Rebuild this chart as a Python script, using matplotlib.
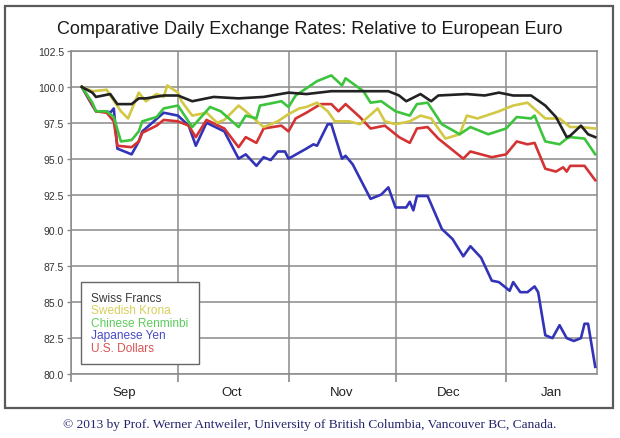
#!/usr/bin/env python3
"""
Comparative daily exchange rates relative to the euro (Sep 2012 - Jan 2013).
Index = 100 on the first trading day. Writes out.png.
"""
from __future__ import annotations

import matplotlib
matplotlib.use("Agg")
import matplotlib.dates as mdates
import matplotlib.pyplot as plt
import numpy as np
from matplotlib.patches import Rectangle

START = np.datetime64("2012-09-01")
END = np.datetime64("2013-01-26T12:00")

# days since 2012-09-01, index values
chf_day = [3, 6, 7, 11, 13, 17, 19, 21, 26, 30, 34, 40, 47, 54, 61, 66, 73, 82, 89, 92,
           94, 98, 101, 103, 111, 116, 120, 124, 129, 133, 136, 139, 140, 143, 145, 147]
chf_val = [100.0, 99.6, 99.3, 99.5, 98.8, 98.8, 99.2, 99.2, 99.4, 99.4,
           99.0, 99.3, 99.2, 99.3, 99.6, 99.5, 99.7, 99.7, 99.7, 99.4,
           99.0, 99.5, 99.0, 99.4, 99.5, 99.4, 99.6, 99.4, 99.4, 98.7,
           97.9, 96.5, 96.6, 97.3, 96.7, 96.5]

sek_day = [3, 6, 10, 11, 14, 16, 19, 21, 24, 26, 27, 30, 31, 34, 38, 41, 43, 47, 49, 54,
           58, 61, 64, 66, 69, 72, 74, 78, 81, 86, 88, 91, 95, 98, 101, 105, 109, 111, 114, 120,
           124, 128, 133, 137, 140, 143, 147]
sek_val = [100.0, 99.7, 99.8, 99.4, 98.3, 97.8, 99.6, 99.0, 99.5, 99.3,
           100.1, 99.6, 99.0, 98.0, 98.2, 97.5, 97.7, 98.7, 98.3, 97.2,
           97.6, 98.1, 98.5, 98.6, 98.9, 98.3, 97.6, 97.6, 97.4, 98.5,
           97.6, 97.4, 97.6, 98.0, 97.8, 96.4, 96.7, 98.0, 97.8, 98.3,
           98.7, 98.9, 97.8, 97.8, 97.2, 97.2, 97.1]

cny_day = [3, 6, 7, 10, 12, 14, 17, 19, 20, 24, 26, 30, 34, 39, 42, 47, 49, 52, 53, 59,
           61, 63, 66, 69, 73, 76, 77, 82, 84, 87, 91, 95, 97, 100, 104, 109, 112, 117, 122, 125,
           129, 130, 133, 137, 139, 140, 144, 147]
cny_val = [100.0, 98.9, 98.3, 98.3, 97.9, 96.2, 96.3, 96.9, 97.6, 97.9,
           98.5, 98.7, 97.2, 98.6, 98.3, 97.2, 98.0, 97.8, 98.7, 99.0,
           98.6, 99.4, 99.9, 100.4, 100.8, 100.1, 100.6, 99.7, 98.9, 99.0,
           98.3, 98.0, 98.8, 98.9, 97.4, 96.7, 97.2, 96.7, 97.1, 97.9,
           97.8, 98.0, 96.2, 96.0, 96.4, 96.5, 96.4, 95.3]

jpy_day = [3, 6, 7, 10, 11, 12, 13, 17, 19, 20, 26, 30, 33, 35, 38, 43, 47, 49, 52, 54,
           56, 58, 60, 61, 66, 68, 69, 72, 73, 76, 77, 79, 84, 87, 89, 91, 94, 95, 96, 97,
           100, 104, 107, 110, 112, 115, 118, 120, 123, 124, 126, 128, 130, 131, 133, 135, 137, 139,
           141, 143, 144, 145, 147]
jpy_val = [100.0, 98.7, 98.3, 98.3, 98.2, 98.5, 95.7, 95.3, 96.2, 96.9,
           98.2, 98.0, 97.3, 95.9, 97.5, 96.9, 95.0, 95.3, 94.5, 95.1,
           94.9, 95.5, 95.5, 95.0, 95.7, 96.0, 95.9, 97.4, 97.4, 95.0,
           95.2, 94.6, 92.2, 92.5, 93.0, 91.6, 91.6, 92.0, 91.4, 92.4,
           92.4, 90.1, 89.4, 88.2, 88.9, 88.1, 86.5, 86.4, 85.8, 86.4,
           85.7, 85.7, 86.1, 85.7, 82.7, 82.5, 83.4, 82.5,
           82.3, 82.5, 83.5, 83.5, 80.5]

usd_day = [3, 5, 7, 10, 12, 13, 17, 19, 20, 24, 26, 30, 33, 35, 38, 43, 47, 49, 52, 54,
           59, 61, 63, 66, 70, 73, 75, 77, 81, 84, 88, 92, 95, 97, 100, 103, 110, 112, 118, 122,
           125, 128, 130, 133, 136, 138, 139, 140, 144, 147]
usd_val = [100.0, 99.2, 98.3, 98.2, 97.6, 95.9, 95.8, 96.2, 96.8, 97.3,
           97.7, 97.6, 97.3, 96.5, 97.7, 97.1, 95.8, 96.5, 96.1, 97.1,
           97.3, 96.9, 97.8, 98.2, 98.8, 98.8, 98.3, 98.8, 97.9, 97.1,
           97.3, 96.5, 96.1, 97.1, 97.2, 96.4, 95.0, 95.5, 95.1, 95.3,
           96.2, 96.0, 96.1, 94.3, 94.1, 94.4, 94.1, 94.5, 94.5, 93.5]

# label, line color, legend text color, days, values
SERIES = [
    ("Swiss Francs", "#222222", "#3a3a3a", chf_day, chf_val),
    ("Swedish Krona", "#d2c843", "#d8cf5c", sek_day, sek_val),
    ("Chinese Renminbi", "#3dc43d", "#5ccc5c", cny_day, cny_val),
    ("Japanese Yen", "#3333b8", "#4a4ac4", jpy_day, jpy_val),
    ("U.S. Dollars", "#d33333", "#d85454", usd_day, usd_val),
]
ZORDER = {"Swiss Francs": 6, "Swedish Krona": 4, "Chinese Renminbi": 5,
          "Japanese Yen": 3, "U.S. Dollars": 3}

Y_TICKS = [80.0, 82.5, 85.0, 87.5, 90.0, 92.5, 95.0, 97.5, 100.0, 102.5]
GRID = "#8a8a8a"


def to_dates(days):
    return START + np.array([np.timedelta64(int(round(d * 24)), "h") for d in days])


def main() -> None:
    fig = plt.figure(figsize=(6.2, 4.39), dpi=100)
    fig.patch.set_facecolor("white")

    # outer frame
    fig.add_artist(Rectangle((5 / 620, 1 - 409 / 439), 608 / 620, 402 / 439,
                             transform=fig.transFigure, fill=False,
                             edgecolor="#5a5a5a", linewidth=1.6))

    fig.text(0.5, 1 - 30 / 439,
             "Comparative Daily Exchange Rates: Relative to European Euro",
             ha="center", va="center", fontsize=13.0, family="Liberation Sans",
             color="#1a1a1a")

    ax = fig.add_axes([71 / 620, 1 - 375 / 439, 526 / 620, 323 / 439])

    for label, color, _, days, vals in SERIES:
        ax.plot(to_dates(days), vals, color=color, lw=1.9, label=label,
                solid_joinstyle="round", zorder=ZORDER[label])

    ax.set_ylim(80.0, 102.5)
    ax.set_xlim(START, END)
    ax.set_yticks(Y_TICKS)
    ax.set_yticklabels([f"{v:.1f}" for v in Y_TICKS])

    # month boundaries as major ticks (grid), labels centred in each month
    ax.xaxis.set_major_locator(mdates.MonthLocator())
    ax.xaxis.set_major_formatter(plt.NullFormatter())
    bounds = [START] + [np.datetime64(m) for m in
                        ["2012-10-01", "2012-11-01", "2012-12-01", "2013-01-01"]] + [END]
    mids = [b0 + (b1 - b0) / 2 for b0, b1 in zip(bounds[:-1], bounds[1:])]
    ax.set_xticks(mids, minor=True)
    ax.xaxis.set_minor_formatter(mdates.DateFormatter("%b"))
    ax.tick_params(axis="x", which="minor", length=0, pad=9, labelsize=9.5,
                   labelcolor="#222222")
    ax.tick_params(axis="x", which="major", length=6, width=1.2, color=GRID)
    ax.tick_params(axis="y", length=3, width=1.0, color=GRID, labelsize=7.5,
                   labelcolor="#333333", pad=2)
    for t in ax.get_yticklabels() + ax.get_xticklabels(minor=True):
        t.set_family("Liberation Sans")

    ax.grid(True, which="major", color=GRID, lw=1.1)
    ax.set_axisbelow(True)
    for s in ax.spines.values():
        s.set_color(GRID)
        s.set_linewidth(1.1)

    leg = ax.legend(loc="lower left", bbox_to_anchor=(0.019, 0.031),
                    handlelength=0, handletextpad=0,
                    fancybox=False, framealpha=1, edgecolor="#666666",
                    borderpad=0.85, labelspacing=0.04, borderaxespad=0,
                    prop={"family": "Liberation Sans", "size": 8.6})
    for h in leg.legend_handles:
        h.set_visible(False)
    for txt, (_, _, tcolor, _, _) in zip(leg.get_texts(), SERIES):
        txt.set_color(tcolor)
    leg.get_frame().set_linewidth(1.0)
    leg.set_zorder(10)

    fig.text(0.5, 1 - 425 / 439,
             "\u00a9 2013 by Prof. Werner Antweiler, University of British Columbia, "
             "Vancouver BC, Canada.",
             ha="center", va="center", fontsize=9.6, family="Liberation Serif",
             color="#23236e")

    fig.savefig("out.png", dpi=100, facecolor="white")
    plt.close(fig)


if __name__ == "__main__":
    main()
